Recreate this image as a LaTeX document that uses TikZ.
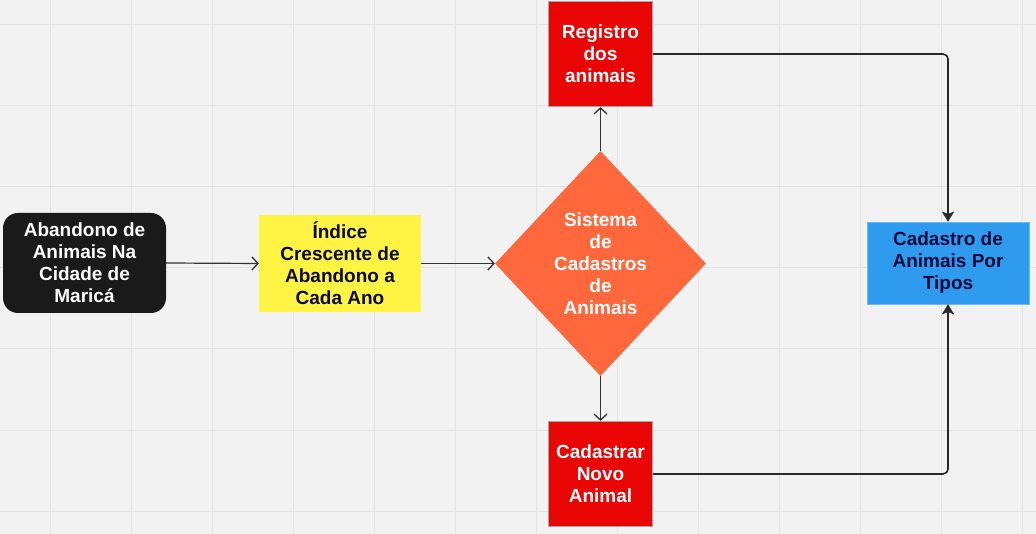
\documentclass[tikz,border=0pt]{standalone}
\usepackage{fontspec}
\setmainfont{Liberation Sans}
\usetikzlibrary{shapes.geometric,arrows.meta}

\definecolor{bgpaper}{HTML}{F2F2F2}
\definecolor{gridline}{HTML}{E3E3E3}
\definecolor{darkbox}{HTML}{1A1A1A}
\definecolor{yellowbox}{HTML}{FFF444}
\definecolor{orangebox}{HTML}{FF683D}
\definecolor{redbox}{HTML}{EA0505}
\definecolor{blueboxfill}{HTML}{2F9BEF}
\definecolor{navytext}{HTML}{0A0A3C}
\definecolor{linkgray}{HTML}{333333}

\tikzset{
  boxtext/.style={font=\fontsize{19}{22}\selectfont\bfseries, align=center, inner sep=0pt},
  startbox/.style={boxtext, fill=darkbox, text=white, rounded corners=15pt,
    minimum width=163pt, minimum height=100pt},
  notebox/.style={boxtext, fill=yellowbox, text=navytext,
    minimum width=162pt, minimum height=97pt},
  decisionbox/.style={boxtext, diamond, fill=orangebox, text=white,
    minimum width=211pt, minimum height=225pt},
  actionbox/.style={boxtext, fill=redbox, draw=gray!70, line width=1.2pt, text=white,
    minimum width=104pt, minimum height=105pt},
  resultbox/.style={boxtext, fill=blueboxfill, draw=blueboxfill!70!white, text=navytext,
    minimum width=162pt, minimum height=82pt},
  thinlink/.style={draw=linkgray, line width=1.2pt,
    -{Straight Barb[length=6pt,width=13pt,line width=1.3pt]}},
  thicklink/.style={draw=linkgray!80!black, line width=1.6pt, rounded corners=5pt,
    -{Stealth[length=10pt,width=12pt,inset=2pt]}}
}

\begin{document}
\begin{tikzpicture}[x=1pt,y=-1pt]

  \useasboundingbox (0,0) rectangle (1036,534);
  \fill[bgpaper] (0,0) rectangle (1036,534);
  \foreach \gx in {50,131,...,1030}
    \draw[gridline, line width=1pt] (\gx,0) -- (\gx,534);
  \foreach \gy in {25,106,...,520}
    \draw[gridline, line width=1pt] (0,\gy) -- (1036,\gy);

  \node[startbox] (abandono) at (84.5,263) {Abandono de\\Animais Na\\Cidade de\\Maricá};
  \node[notebox] (indice) at (340,263.5) {Índice\\Crescente de\\Abandono a\\Cada Ano};
  \node[decisionbox] (sistema) at (600.5,263.5) {Sistema\\de\\Cadastros\\de\\Animais};
  \node[actionbox] (registro) at (600.5,54) {Registro\\dos\\animais};
  \node[actionbox] (cadastrar) at (600.5,474) {Cadastrar\\Novo\\Animal};
  \node[resultbox] (tipos) at (948,263) {Cadastro de\\Animais Por\\Tipos};

  \draw[thinlink] (abandono.east) -- (indice.west);
  \draw[thinlink] (indice.east) -- (sistema.west);
  \draw[thinlink] (sistema.north) -- (registro.south);
  \draw[thinlink] (sistema.south) -- (cadastrar.north);
  \draw[thicklink] (registro.east) -| (tipos.north);
  \draw[thicklink] (cadastrar.east) -| (tipos.south);

\end{tikzpicture}
\end{document}
